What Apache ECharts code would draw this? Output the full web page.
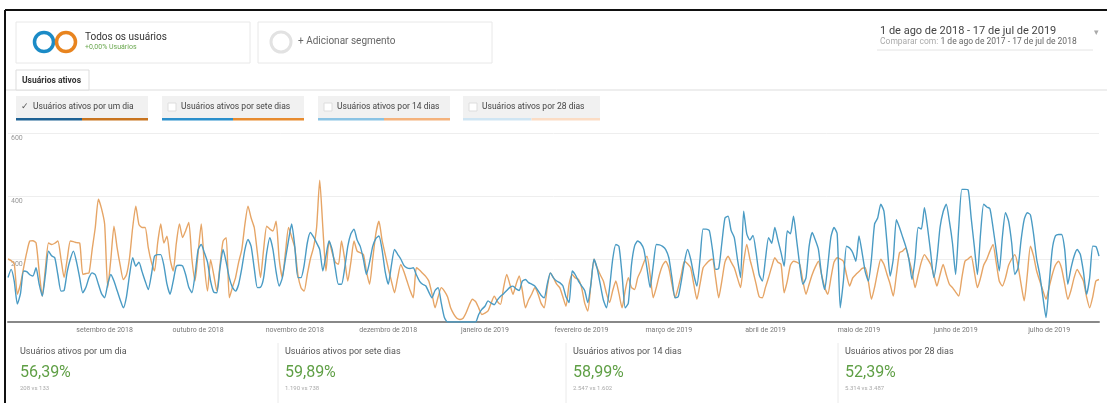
<!DOCTYPE html>
<html>
<head>
    <meta charset="UTF-8">
    <title>Usuários ativos</title>
    <script src="https://cdn.jsdelivr.net/npm/echarts@6/dist/echarts.min.js"></script>
    <style>
        body { margin: 0; background: #fff; }
        #main { width: 1107px; height: 403px; }
    </style>
</head>
<body>
<div id="main"></div>
<script type="text/javascript">
    // 1 de ago de 2018 - 17 de jul de 2019 (atual) x 1 de ago de 2017 - 17 de jul de 2018 (comparação)
    var current = [
        141,167,130,57,90,162,160,150,146,172,
        120,82,150,225,210,204,150,98,100,160,
        200,225,190,140,93,110,141,156,150,120,
        90,77,120,151,130,100,70,45,80,150,
        204,177,190,160,130,103,150,209,214,214,
        180,120,88,130,177,180,178,150,110,93,
        150,230,246,220,190,130,95,93,170,230,
        190,140,110,98,120,170,230,262,240,170,
        109,110,140,220,268,230,160,114,140,200,
        260,311,240,141,141,180,250,284,270,251,
        230,162,210,257,230,170,120,120,170,240,
        280,295,260,240,200,151,190,240,265,273,
        230,160,120,180,230,215,200,180,172,170,
        172,150,130,120,115,95,77,100,109,60,
        14,0,0,0,0,0,0,0,0,0,
        0,24,40,50,67,60,55,70,82,90,
        100,110,114,105,100,130,135,125,120,114,
        100,85,77,120,156,140,130,125,115,80,
        62,162,150,130,115,100,62,120,199,170,
        120,70,45,110,200,246,240,150,45,60,
        180,241,257,250,230,170,109,180,246,245,
        240,230,204,140,77,80,130,190,230,200,
        150,114,200,295,295,290,230,167,170,250,
        330,336,290,268,200,141,352,280,260,275,
        220,150,130,200,268,250,300,260,220,177,
        289,280,336,260,180,120,140,240,284,260,
        230,150,103,180,270,300,280,45,130,241,
        235,220,193,273,220,160,130,200,311,330,
        374,352,250,146,200,325,300,270,240,200,
        135,200,300,295,363,300,220,141,200,300,
        350,374,320,250,151,300,421,421,420,330,
        240,151,280,374,365,360,300,230,162,270,
        347,320,250,151,170,260,325,347,340,280,
        200,150,80,14,120,230,273,278,278,230,
        120,170,209,230,215,160,88,140,241,240,
        209
    ];
    var previous = [
        200,195,185,88,120,172,220,257,258,251,
        160,82,170,251,246,250,257,200,141,200,
        257,255,252,251,151,154,156,230,300,390,
        360,311,109,200,304,236,180,135,150,204,
        300,368,310,300,300,236,190,162,250,311,
        251,272,200,162,250,311,268,290,316,200,
        130,220,311,180,98,198,150,98,180,257,
        268,77,110,141,190,230,310,368,330,300,
        220,141,230,304,295,289,320,200,141,220,
        300,270,236,150,109,98,150,200,236,300,
        450,300,162,257,220,190,183,257,200,130,
        190,257,225,220,215,160,120,200,280,320,
        260,215,170,130,93,140,183,160,130,100,
        77,172,165,155,145,130,90,45,80,109,
        98,80,45,25,12,8,12,30,55,72,
        65,45,24,28,35,60,82,65,56,110,
        151,120,88,120,146,100,45,70,88,109,
        90,60,45,110,156,140,120,109,80,50,
        120,151,140,135,110,60,35,120,199,172,
        150,130,90,62,100,130,90,45,100,141,
        110,103,140,162,190,209,150,77,110,151,
        180,193,172,120,77,109,150,193,185,172,
        120,72,120,172,185,195,199,140,77,130,
        190,209,190,172,140,109,190,246,200,162,
        120,80,77,110,141,175,204,190,183,93,
        130,180,193,190,183,130,88,120,151,175,
        193,150,110,88,140,190,204,200,193,150,
        114,140,151,160,170,172,130,72,110,160,
        199,183,151,120,82,150,220,225,235,200,
        162,109,150,190,214,200,183,150,114,150,
        183,150,120,109,95,82,140,193,200,209,
        160,109,140,180,199,225,246,190,130,114,
        140,180,200,214,180,120,67,150,241,210,
        162,130,100,72,110,150,180,193,170,120,
        72,100,140,167,150,130,80,45,80,130,
        135
    ];
    var monthLabels = ['agosto de 2018','setembro de 2018','outubro de 2018','novembro de 2018',
        'dezembro de 2018','janeiro de 2019','fevereiro de 2019','março de 2019','abril de 2019',
        'maio de 2019','junho de 2019','julho de 2019'];
    var yTicks = [0, 200, 400, 600];
    var buttonNames = ['Usuários ativos por um dia','Usuários ativos por sete dias',
        'Usuários ativos por 14 dias','Usuários ativos por 28 dias'];
    var metricValues = ['56,39%','59,89%','58,99%','52,39%'];
    var metricSub = ['208 vs 133','1.190 vs 738','2.547 vs 1.602','5.314 vs 3.487'];

    // eixo x: um dia por categoria
    var days = [];
    for (var i = 0; i < current.length; i++) {
        days.push(new Date(Date.UTC(2018, 7, 1 + i)).toISOString().slice(0, 10));
    }

    var FONT = 'Roboto, "Open Sans", sans-serif';
    function txt(x, y, text, size, color, extra) {
        var st = { text: text, fontSize: size, fontFamily: FONT, fill: color, verticalAlign: 'middle', align: 'left' };
        for (var k in extra) st[k] = extra[k];
        return { type: 'text', x: x, y: y, style: st, silent: true };
    }

    var g = [];
    // moldura
    g.push({ type: 'line', shape: { x1: 5, y1: 10, x2: 1107, y2: 10 }, style: { stroke: '#111', lineWidth: 2 } });
    g.push({ type: 'line', shape: { x1: 5, y1: 10, x2: 5, y2: 403 }, style: { stroke: '#111', lineWidth: 2 } });

    // segmentos
    g.push({ type: 'rect', shape: { x: 16, y: 22, width: 234, height: 41 }, style: { fill: '#fff', stroke: '#e8e8e8' } });
    g.push({ type: 'circle', shape: { cx: 44, cy: 42, r: 9.5 }, style: { fill: 'none', stroke: '#1b8bc6', lineWidth: 3.5 } });
    g.push({ type: 'circle', shape: { cx: 66, cy: 42, r: 9.5 }, style: { fill: 'none', stroke: '#e8841f', lineWidth: 3.5 } });
    g.push(txt(85, 37, 'Todos os usuários', 10, '#333'));
    g.push(txt(85, 47, '+0,00% Usuários', 7, '#6aa84f'));
    g.push({ type: 'rect', shape: { x: 258, y: 22, width: 234, height: 41 }, style: { fill: '#fff', stroke: '#e8e8e8' } });
    g.push({ type: 'circle', shape: { cx: 281, cy: 42, r: 10 }, style: { fill: 'none', stroke: '#e2e2e2', lineWidth: 3 } });
    g.push(txt(298, 41, '+ Adicionar segmento', 10, '#666'));

    // período
    g.push(txt(880, 31, '1 de ago de 2018 - 17 de jul de 2019', 11, '#444'));
    g.push(txt(880, 42, '{a|Comparar com: }{b|1 de ago de 2017 - 17 de jul de 2018}', 8.5, '#999', {
        rich: { a: { fontSize: 8.5, fontFamily: FONT, fill: '#aaa' }, b: { fontSize: 8.5, fontFamily: FONT, fill: '#666' } }
    }));
    g.push({ type: 'line', shape: { x1: 877, y1: 50, x2: 1093, y2: 50 }, style: { stroke: '#e4e4e4', lineWidth: 1 } });
    g.push(txt(1094, 33, '▾', 9, '#aaa'));

    // aba
    g.push({ type: 'line', shape: { x1: 6, y1: 90, x2: 1107, y2: 90 }, style: { stroke: '#ddd', lineWidth: 1 } });
    g.push({ type: 'rect', shape: { x: 16, y: 70, width: 73, height: 20 }, style: { fill: '#fff', stroke: '#ddd' } });
    g.push(txt(22, 81, 'Usuários ativos', 8.5, '#333', { fontWeight: 'bold' }));

    // botões das métricas
    var btnX = [16, 162, 318, 463];
    var btnW = [132, 142, 132, 137];
    var barBlue = ['#1f6294', '#2b8fcb', '#8ac3e4', '#cfe5f3'];
    var barOrange = ['#c8741f', '#e78b2f', '#f4b27c', '#fbdcc4'];
    for (var b = 0; b < 4; b++) {
        g.push({ type: 'rect', shape: { x: btnX[b], y: 96, width: btnW[b], height: 22 }, style: { fill: '#f1f1f1' } });
        g.push({ type: 'rect', shape: { x: btnX[b], y: 118, width: btnW[b] / 2, height: 2.5 }, style: { fill: barBlue[b] } });
        g.push({ type: 'rect', shape: { x: btnX[b] + btnW[b] / 2, y: 118, width: btnW[b] / 2, height: 2.5 }, style: { fill: barOrange[b] } });
        if (b === 0) {
            g.push(txt(btnX[b] + 5, 107, '✓', 9, '#555'));
            g.push(txt(btnX[b] + 17, 107, buttonNames[b], 8.5, '#444'));
        } else {
            g.push({ type: 'rect', shape: { x: btnX[b] + 6, y: 103, width: 8, height: 8 }, style: { fill: '#fff', stroke: '#ddd' } });
            g.push(txt(btnX[b] + 19, 107, buttonNames[b], 8.5, '#444'));
        }
    }

    // resumo inferior
    var colX = [20, 285, 573, 845];
    for (var c = 0; c < 4; c++) {
        if (c > 0) {
            g.push({ type: 'line', shape: { x1: colX[c] - 7, y1: 343, x2: colX[c] - 7, y2: 403 }, style: { stroke: '#eaeaea', lineWidth: 1 } });
        }
        g.push(txt(colX[c], 352, buttonNames[c], 9, '#555'));
        g.push(txt(colX[c], 373, metricValues[c], 16, '#5f9f45'));
        g.push(txt(colX[c], 388, metricSub[c], 6, '#aaa'));
    }

    var myChart = echarts.init(document.getElementById('main'));
    myChart.setOption({
        animation: false,
        backgroundColor: '#fff',
        graphic: { elements: g },
        grid: { left: 8, right: 8, top: 133, height: 189, containLabel: false },
        xAxis: {
            type: 'category',
            data: days,
            boundaryGap: false,
            axisLine: { lineStyle: { color: '#888', width: 2 } },
            axisTick: { show: false },
            axisLabel: {
                interval: function (idx, val) { return idx > 0 && val.slice(8) === '01'; },
                formatter: function (val) {
                    var m = (parseInt(val.slice(0, 4)) - 2018) * 12 + parseInt(val.slice(5, 7)) - 8;
                    return monthLabels[m];
                },
                fontSize: 7, color: '#777', fontFamily: FONT, margin: 5
            },
            splitLine: { show: false }
        },
        yAxis: {
            type: 'value',
            min: yTicks[0], max: yTicks[yTicks.length - 1], interval: 200,
            axisLine: { show: false },
            axisTick: { show: false },
            axisLabel: {
                inside: true, margin: 3, verticalAlign: 'top', padding: [2, 0, 0, 0],
                fontSize: 7, color: '#999', fontFamily: FONT,
                formatter: function (v) { return v === 0 ? '' : v; }
            },
            splitLine: { lineStyle: { color: '#eeeeee', width: 1 } }
        },
        series: [
            {
                name: '1 de ago de 2017 - 17 de jul de 2018',
                type: 'line', data: previous, showSymbol: false, smooth: 0.2,
                lineStyle: { color: '#e6a566', width: 1.4 }, z: 2
            },
            {
                name: '1 de ago de 2018 - 17 de jul de 2019',
                type: 'line', data: current, showSymbol: false, smooth: 0.2,
                lineStyle: { color: '#4a9bc4', width: 1.4 }, z: 3
            }
        ]
    });
</script>
</body>
</html>
